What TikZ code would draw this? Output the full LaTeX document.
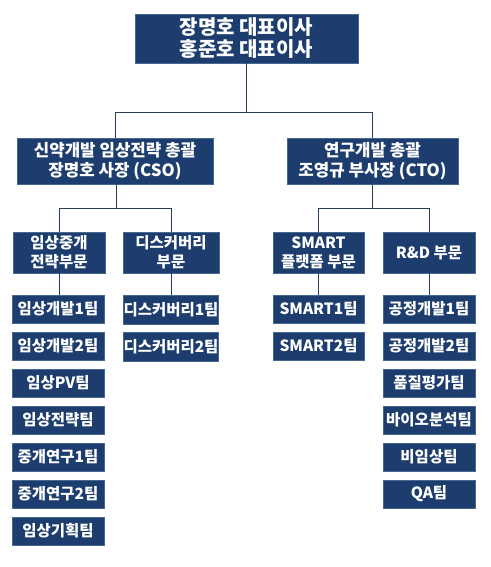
\documentclass[tikz,border=0pt]{standalone}
\usepackage{fontspec}
\setmainfont{Noto Sans CJK KR}
\definecolor{navy}{RGB}{28,61,110}
\definecolor{navyedge}{RGB}{70,105,145}
\definecolor{linec}{RGB}{40,60,90}
\begin{document}
\begin{tikzpicture}[x=1pt,y=-1pt,
  box/.style={draw=navyedge, line width=0.8pt, fill=navy, text=white, inner sep=0pt, align=center, font=\bfseries},
  topbox/.style={box, minimum width=223pt, minimum height=49pt, font=\fontsize{20}{22}\selectfont\bfseries},
  midbox/.style={box, minimum height=46pt, font=\fontsize{16.8}{20}\selectfont\bfseries},
  divbox/.style={box, minimum height=41pt, font=\fontsize{15.5}{19}\selectfont\bfseries},
  teambox/.style={box, minimum height=28pt, font=\fontsize{15.5}{16}\selectfont\bfseries},
  conn/.style={draw=linec, line width=0.8pt}
]
\useasboundingbox (0,0) rectangle (490,567);
\fill[white] (0,0) rectangle (490,567);

\node[topbox] (top) at (246.5,38.5) {장명호 대표이사\\홍준호 대표이사};
\node[midbox, minimum width=196pt] (cso) at (115,161) {신약개발 임상전략 총괄\\장명호 사장 (CSO)};
\node[midbox, minimum width=171pt] (cto) at (372.5,161) {연구개발 총괄\\조영규 부사장 (CTO)};

\node[divbox, minimum width=92pt] (d1) at (59,252.5) {임상중개\\전략부문};
\node[divbox, minimum width=96pt] (d2) at (171,252.5) {디스커버리\\부문};
\node[divbox, minimum width=91pt] (d3) at (318.5,252.5) {SMART\\플랫폼 부문};
\node[divbox, minimum width=92pt] (d4) at (429,252.5) {R\&D 부문};

% left teams
\node[teambox, minimum width=92pt] (a1) at (58,309) {임상개발1팀};
\node[teambox, minimum width=92pt] (a2) at (58,346) {임상개발2팀};
\node[teambox, minimum width=92pt] (a3) at (58,383) {임상PV팀};
\node[teambox, minimum width=92pt] (a4) at (58,420) {임상전략팀};
\node[teambox, minimum width=92pt] (a5) at (58,457) {중개연구1팀};
\node[teambox, minimum width=92pt] (a6) at (58,494) {중개연구2팀};
\node[teambox, minimum width=92pt] (a7) at (58,531) {임상기획팀};

\node[teambox, minimum width=92pt, minimum height=29pt] (b1) at (171,309.5) {디스커버리1팀};
\node[teambox, minimum width=92pt, minimum height=29pt] (b2) at (171,346.5) {디스커버리2팀};

\node[teambox, minimum width=91pt] (c1) at (318.5,309) {SMART1팀};
\node[teambox, minimum width=91pt] (c2) at (318.5,346) {SMART2팀};

\node[teambox, minimum width=92pt] (e1) at (429,309) {공정개발1팀};
\node[teambox, minimum width=92pt] (e2) at (429,346) {공정개발2팀};
\node[teambox, minimum width=92pt] (e3) at (429,383) {품질평가팀};
\node[teambox, minimum width=92pt] (e4) at (429,420) {바이오분석팀};
\node[teambox, minimum width=92pt] (e5) at (429,457) {비임상팀};
\node[teambox, minimum width=92pt] (e6) at (429,494) {QA팀};

% connectors
\coordinate (j0) at (246.5,112);
\coordinate (j1) at (116,208);
\coordinate (j2) at (372.5,208);
\draw[conn] (top.south) -- (j0);
\draw[conn] (j0) -| (cso.north);
\draw[conn] (j0) -| (cto.north);
\draw[conn] (cso.south -| j1) -- (j1);
\draw[conn] (j1) -| (d1.north);
\draw[conn] (j1) -| (d2.north);
\draw[conn] (cto.south) -- (j2);
\draw[conn] (j2) -| (d3.north);
\draw[conn] (j2) -| (d4.north);
\draw[conn] (d1.south) -- (d1.south |- a1.north);
\draw[conn] (d2.south) -- (d2.south |- b1.north);
\draw[conn] (d3.south) -- (d3.south |- c1.north);
\draw[conn] (d4.south) -- (d4.south |- e1.north);
\end{tikzpicture}
\end{document}
